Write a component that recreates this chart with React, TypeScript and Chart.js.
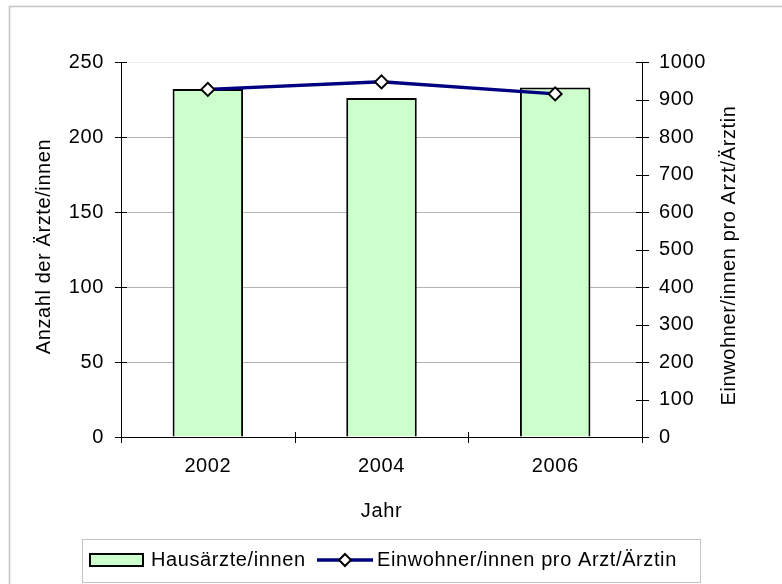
import React, { useEffect, useRef } from "react";
import { Chart, registerables } from "chart.js";

Chart.register(...registerables);

const categories = ["2002", "2004", "2006"];
const doctors = [232, 226, 233];
const residentsPerDoctor = [927, 947, 915];
const leftTicks = { min: 0, max: 250, step: 50 };
const rightTicks = { min: 0, max: 1000, step: 100 };
const barLabel = "Hausärzte/innen";
const lineLabel = "Einwohner/innen pro Arzt/Ärztin";
const leftTitle = "Anzahl der Ärzte/innen";
const rightTitle = "Einwohner/innen pro Arzt/Ärztin";
const xTitle = "Jahr";

const FONT_FAMILY = '"Liberation Sans", Arial, sans-serif';
const FONT_SIZE = 20;
const LETTER_SPACING = "0.6px";
const BAR_FILL = "#ccffcc";
const LINE_COLOR = "#000080";

const spacingPlugin = {
  id: "spacing",
  beforeDraw(chart: any) {
    (chart.ctx as any).letterSpacing = LETTER_SPACING;
  },
};

const decorPlugin = {
  id: "decor",
  afterDraw(chart: any) {
    const ctx = chart.ctx as CanvasRenderingContext2D;
    const area = chart.chartArea;
    const xs = chart.scales.x;
    const yl = chart.scales.y;
    const yr = chart.scales.y1;
    ctx.save();
    (ctx as any).letterSpacing = LETTER_SPACING;
    // outer frame
    ctx.strokeStyle = "#c4c4c4";
    ctx.lineWidth = 1.5;
    ctx.strokeRect(9.5, 6.5, 1000, 1000);

    // cross tick marks
    ctx.strokeStyle = "#000";
    ctx.lineWidth = 1;
    ctx.beginPath();
    yl.ticks.forEach((t: any) => {
      const y = Math.round(yl.getPixelForValue(t.value)) + 0.5;
      ctx.moveTo(area.left - 6, y);
      ctx.lineTo(area.left + 6, y);
    });
    yr.ticks.forEach((t: any) => {
      const y = Math.round(yr.getPixelForValue(t.value)) + 0.5;
      ctx.moveTo(area.right - 6, y);
      ctx.lineTo(area.right + 7, y);
    });
    const n = categories.length;
    const cw = xs.getPixelForValue(1) - xs.getPixelForValue(0);
    for (let i = 0; i <= n; i++) {
      const x = Math.round(xs.getPixelForValue(0) - cw / 2 + i * cw) + 0.5;
      ctx.moveTo(x, area.bottom - 5);
      ctx.lineTo(x, area.bottom + 6);
    }
    ctx.stroke();

    // axis titles
    ctx.fillStyle = "#000";
    ctx.font = `${FONT_SIZE}px ${FONT_FAMILY}`;
    ctx.textAlign = "center";
    ctx.textBaseline = "middle";
    ctx.save();
    ctx.translate(44, (area.top + area.bottom) / 2 - 3);
    ctx.rotate(-Math.PI / 2);
    ctx.fillText(leftTitle, 0, 0);
    ctx.restore();
    ctx.save();
    ctx.translate(729, (area.top + area.bottom) / 2 + 6);
    ctx.rotate(-Math.PI / 2);
    ctx.fillText(rightTitle, 0, 0);
    ctx.restore();
    ctx.fillText(xTitle, (area.left + area.right) / 2, 511);

    // legend
    const ly = 560;
    ctx.strokeStyle = "#c4c4c4";
    ctx.lineWidth = 1;
    ctx.strokeRect(82.5, 539.5, 618, 43);
    ctx.fillStyle = BAR_FILL;
    ctx.fillRect(90, 554, 53, 12);
    ctx.strokeStyle = "#000";
    ctx.lineWidth = 2;
    ctx.strokeRect(90, 554, 53, 12);
    ctx.fillStyle = "#000";
    ctx.textAlign = "left";
    ctx.fillText(barLabel, 151, ly);
    ctx.strokeStyle = LINE_COLOR;
    ctx.lineWidth = 3.5;
    ctx.beginPath();
    ctx.moveTo(317, ly);
    ctx.lineTo(373, ly);
    ctx.stroke();
    ctx.fillStyle = "#fff";
    ctx.strokeStyle = "#000";
    ctx.lineWidth = 2;
    ctx.beginPath();
    ctx.moveTo(345, ly - 6);
    ctx.lineTo(351, ly);
    ctx.lineTo(345, ly + 6);
    ctx.lineTo(339, ly);
    ctx.closePath();
    ctx.fill();
    ctx.stroke();
    ctx.fillStyle = "#000";
    ctx.fillText(lineLabel, 377, ly);
    ctx.restore();
  },
};

export default function App() {
  const ref = useRef<HTMLCanvasElement | null>(null);
  useEffect(() => {
    if (!ref.current) return;
    const font = { family: FONT_FAMILY, size: FONT_SIZE };
    const plain = (v: any) => String(v);
    const chart = new Chart(ref.current, {
      type: "bar",
      data: {
        labels: categories,
        datasets: [
          {
            type: "line",
            label: lineLabel,
            data: residentsPerDoctor,
            yAxisID: "y1",
            borderColor: LINE_COLOR,
            borderWidth: 3.5,
            pointStyle: "rectRot",
            pointRadius: 6.5,
            pointBackgroundColor: "#fff",
            pointBorderColor: "#000",
            pointBorderWidth: 2,
            tension: 0,
            order: 1,
          } as any,
          {
            type: "bar",
            label: barLabel,
            data: doctors,
            yAxisID: "y",
            backgroundColor: BAR_FILL,
            borderColor: "#000",
            borderWidth: 2,
            barPercentage: 0.406,
            categoryPercentage: 1,
            order: 2,
          },
        ],
      },
      options: {
        animation: false,
        responsive: false,
        maintainAspectRatio: false,
        layout: { padding: { top: 62, left: 0, right: 0, bottom: 0 } },
        plugins: {
          legend: { display: false },
          tooltip: { enabled: false },
          title: { display: false },
        },
        scales: {
          x: {
            type: "category",
            offset: true,
            grid: { display: false, drawTicks: false, tickLength: 0 },
            border: { display: true, color: "#000", width: 1 },
            ticks: { color: "#000", font, padding: 17, maxRotation: 0 },
            afterFit: (s: any) => { s.height = 147; },
          },
          y: {
            type: "linear",
            position: "left",
            min: leftTicks.min,
            max: leftTicks.max,
            ticks: { stepSize: leftTicks.step, color: "#000", font, padding: 17, callback: plain },
            grid: {
              drawTicks: false,
              tickLength: 0,
              color: (c: any) => (c.tick && c.tick.value === leftTicks.max ? "#ececec" : "#b4b4b4"),
              lineWidth: 1,
            },
            border: { display: true, color: "#000", width: 1 },
            afterFit: (s: any) => { s.width = 121; },
          },
          y1: {
            type: "linear",
            position: "right",
            min: rightTicks.min,
            max: rightTicks.max,
            ticks: { stepSize: rightTicks.step, color: "#000", font, padding: 17, callback: plain },
            grid: { drawOnChartArea: false, drawTicks: false, tickLength: 0 },
            border: { display: true, color: "#000", width: 1 },
            afterFit: (s: any) => { s.width = 140; },
          },
        },
      },
      plugins: [spacingPlugin, decorPlugin],
    });
    return () => chart.destroy();
  }, []);
  return (
    <div style={{ position: "fixed", left: 0, top: 0, width: 782, height: 584, overflow: "hidden", background: "#fff" }}>
      <canvas ref={ref} width={782} height={584} style={{ display: "block", width: 782, height: 584 }} />
    </div>
  );
}
